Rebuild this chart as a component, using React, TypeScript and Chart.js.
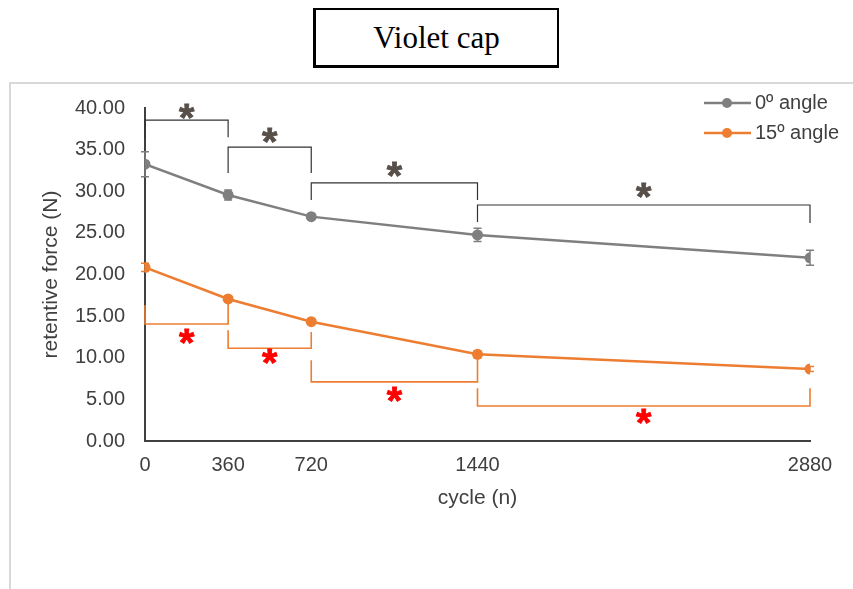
import React, { useEffect, useRef } from "react";
import { Chart, registerables } from "chart.js";

Chart.register(...registerables);

// ---------------- data ----------------
const cycles = [0, 360, 720, 1440, 2880];
const xTickValues = [0, 360, 720, 1440, 2880];
const angle0Mean = [33.25, 29.55, 26.95, 24.75, 22.0];
const angle0Err = [1.5, 0.6, 0.3, 0.8, 0.9];
const angle15Mean = [20.85, 17.06, 14.33, 10.41, 8.65];
const angle15Err = [0.5, 0.3, 0.3, 0.4, 0.3];
const seriesLabels = ["0º angle", "15º angle"];
const chartTitle = "Violet cap";
const xTitle = "cycle (n)";
const yTitle = "retentive force (N)";
const starText = "*";

// significance brackets (data units): [xStart, xEnd, yBar, yLeftEnd, yRightEnd, starY]
const grayBrackets = [
  [0, 360, 38.55, 36.3, 36.5, 39.6],
  [360, 720, 35.3, 32.2, 32.2, 36.7],
  [720, 1440, 31.0, 28.95, 28.95, 32.65],
  [1440, 2880, 28.35, 26.3, 26.2, 30.15],
];
const orangeBrackets = [
  [0, 360, 14.05, 16.3, 16.55, 12.5],
  [360, 720, 11.15, 13.3, 13.1, 10.1],
  [720, 1440, 7.1, 9.7, 10.2, 5.6],
  [1440, 2880, 4.2, 6.35, 6.35, 2.9],
];

// ---------------- styles ----------------
const GRAY = "#7f7f7f";
const ORANGE = "#ed7d31";
const AXIS = "#404040";
const TXT = "#404040";
const GRAY_STAR = "#584f4a";
const RED_STAR = "#ff0000";
const FAMILY = "'Liberation Sans', Arial, sans-serif";

function drawStar(ctx: CanvasRenderingContext2D, cx: number, cy: number, color: string, targetH: number) {
  ctx.save();
  ctx.font = `bold 100px ${FAMILY}`;
  const m0 = ctx.measureText(starText);
  const h0 = m0.actualBoundingBoxAscent + m0.actualBoundingBoxDescent;
  const size = (targetH / (h0 || 30)) * 100;
  ctx.font = `bold ${size}px ${FAMILY}`;
  const m = ctx.measureText(starText);
  const A = m.actualBoundingBoxAscent;
  const D = m.actualBoundingBoxDescent;
  ctx.fillStyle = color;
  ctx.strokeStyle = color;
  ctx.lineWidth = 0.8;
  ctx.textAlign = "center";
  ctx.textBaseline = "alphabetic";
  ctx.fillText(starText, cx, cy + (A - D) / 2);
  ctx.strokeText(starText, cx, cy + (A - D) / 2);
  ctx.restore();
}

const bgPlugin = {
  id: "bg",
  beforeDraw(chart: any) {
    const ctx = chart.ctx as CanvasRenderingContext2D;
    ctx.save();
    ctx.fillStyle = "#ffffff";
    ctx.fillRect(0, 0, chart.width, chart.height);
    ctx.strokeStyle = "#d9d9d9";
    ctx.lineWidth = 2;
    ctx.strokeRect(10, 83, chart.width + 20, chart.height + 20);
    ctx.restore();
  },
};

const errorBarPlugin = {
  id: "errorBars",
  afterDatasetsDraw(chart: any) {
    const ctx = chart.ctx as CanvasRenderingContext2D;
    const xs = chart.scales.x;
    const ys = chart.scales.y;
    chart.data.datasets.forEach((ds: any) => {
      const errs: number[] = ds.errors || [];
      ctx.save();
      ctx.strokeStyle = ds.borderColor;
      ctx.lineWidth = 1.5;
      ds.data.forEach((p: any, i: number) => {
        const e = errs[i] || 0;
        const x = xs.getPixelForValue(p.x);
        const yT = ys.getPixelForValue(p.y + e);
        const yB = ys.getPixelForValue(p.y - e);
        ctx.beginPath();
        ctx.moveTo(x, yT);
        ctx.lineTo(x, yB);
        ctx.moveTo(x - 4, yT);
        ctx.lineTo(x + 4, yT);
        ctx.moveTo(x - 4, yB);
        ctx.lineTo(x + 4, yB);
        ctx.stroke();
      });
      ctx.restore();
    });
  },
};

const bracketPlugin = {
  id: "brackets",
  afterDatasetsDraw(chart: any) {
    const ctx = chart.ctx as CanvasRenderingContext2D;
    const xs = chart.scales.x;
    const ys = chart.scales.y;
    const drawSet = (set: number[][], lineColor: string, lw: number, starColor: string) => {
      set.forEach((b) => {
        const [x0, x1, yb, yl, yr, ysStar] = b;
        const px0 = xs.getPixelForValue(x0);
        const px1 = xs.getPixelForValue(x1);
        const pyb = ys.getPixelForValue(yb);
        ctx.save();
        ctx.strokeStyle = lineColor;
        ctx.lineWidth = lw;
        ctx.beginPath();
        ctx.moveTo(px0, ys.getPixelForValue(yl));
        ctx.lineTo(px0, pyb);
        ctx.lineTo(px1, pyb);
        ctx.lineTo(px1, ys.getPixelForValue(yr));
        ctx.stroke();
        ctx.restore();
        drawStar(ctx, (px0 + px1) / 2, ys.getPixelForValue(ysStar), starColor, 15);
      });
    };
    drawSet(grayBrackets, "#333333", 1.2, GRAY_STAR);
    drawSet(orangeBrackets, ORANGE, 1.6, RED_STAR);
  },
};

const legendPlugin = {
  id: "customLegend",
  afterDraw(chart: any) {
    const ctx = chart.ctx as CanvasRenderingContext2D;
    const rows = [103, 133];
    chart.data.datasets.forEach((ds: any, i: number) => {
      const y = rows[i];
      ctx.save();
      ctx.strokeStyle = ds.borderColor;
      ctx.lineWidth = 2.5;
      ctx.beginPath();
      ctx.moveTo(704, y);
      ctx.lineTo(751, y);
      ctx.stroke();
      ctx.fillStyle = ds.backgroundColor;
      ctx.beginPath();
      ctx.arc(727, y, 5, 0, Math.PI * 2);
      ctx.fill();
      ctx.fillStyle = TXT;
      ctx.font = `20px ${FAMILY}`;
      ctx.textAlign = "left";
      ctx.textBaseline = "middle";
      ctx.fillText(ds.label, 755, y);
      ctx.restore();
    });
  },
};

export default function App() {
  const ref = useRef<HTMLCanvasElement>(null);

  useEffect(() => {
    const canvas = ref.current;
    if (!canvas) return;
    const chart = new Chart(canvas, {
      type: "line",
      data: {
        datasets: [
          {
            label: seriesLabels[0],
            data: cycles.map((x, i) => ({ x, y: angle0Mean[i] })),
            borderColor: GRAY,
            backgroundColor: GRAY,
            borderWidth: 2.5,
            pointRadius: 5.5,
            pointHoverRadius: 5.5,
            pointBorderWidth: 0,
            tension: 0,
            errors: angle0Err,
          } as any,
          {
            label: seriesLabels[1],
            data: cycles.map((x, i) => ({ x, y: angle15Mean[i] })),
            borderColor: ORANGE,
            backgroundColor: ORANGE,
            borderWidth: 2.5,
            pointRadius: 5.5,
            pointHoverRadius: 5.5,
            pointBorderWidth: 0,
            tension: 0,
            errors: angle15Err,
          } as any,
        ],
      },
      options: {
        responsive: false,
        animation: false,
        devicePixelRatio: 1,
        layout: { padding: { left: 34.4, top: 108, right: 43, bottom: 74.4 } },
        plugins: {
          legend: { display: false },
          tooltip: { enabled: false },
          title: { display: false },
        },
        scales: {
          x: {
            type: "linear",
            min: 0,
            max: 2880,
            afterBuildTicks: (s: any) => {
              s.ticks = xTickValues.map((v) => ({ value: v }));
            },
            afterFit: (s: any) => {
              s.height = 73.6;
            },
            grid: { display: false, drawTicks: false },
            border: { display: true, color: AXIS, width: 2 },
            ticks: {
              padding: 12,
              color: TXT,
              autoSkip: false,
              maxRotation: 0,
              font: { family: FAMILY, size: 20 },
              callback: (v: any) => String(v),
            },
            title: {
              display: true,
              text: xTitle,
              color: TXT,
              font: { family: FAMILY, size: 21 },
            },
          },
          y: {
            type: "linear",
            min: 0,
            max: 40,
            afterFit: (s: any) => {
              s.width = 110.6;
            },
            grid: { display: false, drawTicks: false },
            border: { display: true, color: AXIS, width: 2 },
            ticks: {
              stepSize: 5,
              padding: 20,
              color: TXT,
              font: { family: FAMILY, size: 20 },
              callback: (v: any) => Number(v).toFixed(2),
            },
            title: {
              display: true,
              text: yTitle,
              color: TXT,
              font: { family: FAMILY, size: 21 },
            },
          },
        },
      } as any,
      plugins: [bgPlugin, errorBarPlugin, bracketPlugin, legendPlugin],
    });
    return () => chart.destroy();
  }, []);

  return (
    <div
      style={{
        position: "fixed",
        left: 0,
        top: 0,
        width: 853,
        height: 589,
        overflow: "hidden",
        background: "#ffffff",
      }}
    >
      <canvas
        ref={ref}
        width={853}
        height={589}
        style={{ position: "absolute", left: 0, top: 0, width: 853, height: 589 }}
      />
      <div
        style={{
          position: "absolute",
          left: 313,
          top: 8,
          width: 246,
          height: 60,
          boxSizing: "border-box",
          borderTop: "2px solid #000",
          borderRight: "2px solid #000",
          borderLeft: "3px solid #000",
          borderBottom: "3px solid #000",
          background: "#ffffff",
          display: "flex",
          alignItems: "center",
          justifyContent: "center",
          fontFamily: "'Liberation Serif', 'Times New Roman', serif",
          fontSize: 31,
          color: "#000",
        }}
      >
        {chartTitle}
      </div>
    </div>
  );
}
